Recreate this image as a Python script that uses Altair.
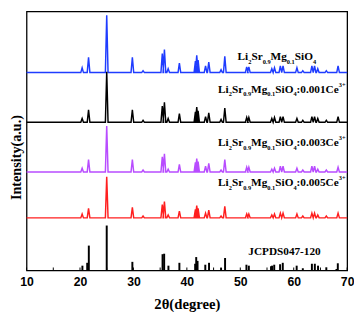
import altair as alt
import pandas as pd

# ---- measured patterns (common peak positions, degrees 2theta) ----
peak_pos = [20.4, 21.6, 25.0, 29.8, 31.8, 35.4, 35.8, 36.5, 38.6, 41.6, 41.85, 42.1,
            43.5, 44.1, 46.4, 47.1, 51.2, 51.6, 55.9, 56.4, 57.5, 58.0, 60.6, 61.7,
            63.4, 63.9, 64.5, 66.1, 68.3]
# peak heights above each baseline (arbitrary units)
h_pure = [5, 16, 60, 16, 2, 20, 24, 4, 10, 12, 18, 13, 7, 11, 3, 17, 6, 6, 4, 5, 7, 7, 5, 2, 7, 7, 4, 2, 7]
h_001 = [4, 13, 53, 13, 2, 17, 21, 4, 9, 11, 16, 12, 6, 10, 3, 15, 5, 5, 4, 5, 6, 6, 4, 2, 6, 6, 4, 2, 6]
h_003 = [4, 13, 48, 13, 2, 16, 19, 3, 8, 10, 14, 11, 6, 9, 2, 13, 5, 5, 3, 4, 6, 6, 4, 2, 6, 6, 3, 2, 5]
h_005 = [4, 10, 43, 11, 2, 14, 17, 3, 7, 9, 13, 10, 5, 8, 2, 12, 4, 4, 3, 4, 5, 5, 4, 2, 5, 5, 3, 2, 5]

series_names = ["pure", "0.001Ce", "0.003Ce", "0.005Ce"]
series_heights = [h_pure, h_001, h_003, h_005]
series_base = [207, 155, 103, 55]
series_colors = ["#1f3cff", "#000000", "#b84cff", "#ff1f1f"]

# ---- JCPDS 047-120 reference sticks ----
ref_pos = [20.45, 21.35, 21.65, 25.0, 29.8, 35.45, 35.75, 36.55, 38.6, 41.55, 41.75, 42.0,
           43.45, 44.15, 46.4, 47.15, 51.15, 51.6, 55.75, 55.95, 56.35, 57.45, 57.95, 60.55,
           61.7, 63.4, 63.95, 64.55, 66.1, 68.0, 68.25]
ref_h = [5, 8, 26, 47, 9, 17, 17.5, 5, 8, 7, 14, 10, 6, 8, 3, 13, 6, 5, 4.5, 5, 6, 6.5, 8, 5,
         2.3, 7, 7, 5, 3.3, 1.5, 7.5]

tick_values = [10, 15, 20, 25, 30, 35, 40, 45, 50, 55, 60, 65, 70]

# ---- labels ----
label_runs = [
    [("Li", "n"), ("2", "sub"), ("Sr", "n"), ("0.9", "sub"), ("Mg", "n"), ("0.1", "sub"), ("SiO", "n"), ("4", "sub")],
    [("Li", "n"), ("2", "sub"), ("Sr", "n"), ("0.9", "sub"), ("Mg", "n"), ("0.1", "sub"), ("SiO", "n"), ("4", "sub"), (":0.001Ce", "n"), ("3+", "sup")],
    [("Li", "n"), ("2", "sub"), ("Sr", "n"), ("0.9", "sub"), ("Mg", "n"), ("0.1", "sub"), ("SiO", "n"), ("4", "sub"), (":0.003Ce", "n"), ("3+", "sup")],
    [("Li", "n"), ("2", "sub"), ("Sr", "n"), ("0.9", "sub"), ("Mg", "n"), ("0.1", "sub"), ("SiO", "n"), ("4", "sub"), (":0.005Ce", "n"), ("3+", "sup")],
    [("JCPDS047-120", "n")],
]
label_x = [49.5, 45.85, 45.85, 45.85, 51.5]
label_y = [220, 186, 130, 88, 16.5]

# ---- layout ----
PW, PH = 328, 265
X_DOM = [10, 70]
Y_DOM = [0, 271]
DEG_PER_PX = (X_DOM[1] - X_DOM[0]) / PW
U_PER_PX = (Y_DOM[1] - Y_DOM[0]) / PH
MAIN, SUB = 11.5, 6.5
HALF_W = 0.25

# Times-Bold advance widths (per 1000 em)
W = {'L': 667, 'i': 278, 'S': 556, 'r': 444, 'M': 944, 'g': 500, 'O': 778, ':': 333, '.': 250,
     'C': 722, 'e': 444, '+': 570, 'J': 500, 'P': 611, 'D': 722, '-': 333}
for d in "0123456789":
    W[d] = 500


def tw(s, size):
    return sum(W[c] for c in s) * size / 1000.0


# build line table
rows = []
for name, hs, base in zip(series_names, series_heights, series_base):
    k = 0
    rows.append({"series": name, "x": X_DOM[0], "y": base, "o": k}); k += 1
    for p, h in zip(peak_pos, hs):
        rows.append({"series": name, "x": p - HALF_W, "y": base, "o": k}); k += 1
        rows.append({"series": name, "x": p, "y": base + h, "o": k}); k += 1
        rows.append({"series": name, "x": p + HALF_W, "y": base, "o": k}); k += 1
    rows.append({"series": name, "x": X_DOM[1], "y": base, "o": k})
lines_df = pd.DataFrame(rows)

ref_df = pd.DataFrame({"x": ref_pos, "y0": [0] * len(ref_pos), "y1": ref_h})
tick_df = pd.DataFrame({"x": tick_values})

trows = []
for runs, ax, ay in zip(label_runs, label_x, label_y):
    off = 0.0
    for txt, kind in runs:
        size = MAIN if kind == "n" else SUB
        dy = 0 if kind == "n" else (3.5 if kind == "sub" else -6)
        trows.append({"t": txt, "x": ax + off * DEG_PER_PX, "y": ay - dy * U_PER_PX, "s": size})
        off += tw(txt, size)
text_df = pd.DataFrame(trows)

xs = alt.Scale(domain=X_DOM, nice=False, zero=False)
ys = alt.Scale(domain=Y_DOM, nice=False, zero=False)

x_axis = alt.Axis(values=[10, 20, 30, 40, 50, 60, 70], format="d", labelFont="Liberation Sans",
                  labelFontWeight="bold", labelFontSize=12.5, labelColor="black", labelFlush=False,
                  labelOverlap=False, ticks=False, domain=False, grid=False, labelPadding=5,
                  title="2θ(degree)", titleFont="Liberation Serif", titleFontSize=15,
                  titleFontWeight="bold", titleColor="black", titlePadding=9)
y_axis = alt.Axis(labels=False, ticks=False, domain=False, grid=False, title="Intensity(a.u.)",
                  titleFont="Liberation Serif", titleFontSize=14.5, titleFontWeight="bold",
                  titleColor="black", titlePadding=3, titleY=149)

bars = alt.Chart(ref_df).mark_rule(color="black", strokeWidth=2).encode(
    x=alt.X("x:Q", scale=xs, axis=x_axis),
    y=alt.Y("y0:Q", scale=ys, axis=y_axis),
    y2="y1:Q",
)

lines = alt.Chart(lines_df).mark_line(strokeWidth=1.5, strokeJoin="miter").encode(
    x=alt.X("x:Q", scale=xs),
    y=alt.Y("y:Q", scale=ys),
    color=alt.Color("series:N", scale=alt.Scale(domain=series_names, range=series_colors), legend=None),
    order="o:Q",
)

ticks = alt.Chart(tick_df).mark_rule(color="black", strokeWidth=1).encode(
    x=alt.X("x:Q", scale=xs),
    y=alt.value(PH),
    y2=alt.value(PH - 3),
)

labels = alt.Chart(text_df).mark_text(align="left", baseline="alphabetic", font="Liberation Serif",
                                      fontWeight="bold", color="black").encode(
    x=alt.X("x:Q", scale=xs),
    y=alt.Y("y:Q", scale=ys),
    text="t:N",
    size=alt.Size("s:Q", scale=None, legend=None),
)

chart = alt.layer(bars, lines, ticks, labels).properties(
    width=PW, height=PH,
    autosize=alt.AutoSizeParams(type="none"),
    padding={"left": 19, "top": 0, "right": 7, "bottom": 39},
    background="white",
).configure_view(stroke="black", strokeWidth=1.3)

chart.save("out.html", embed_options={"renderer": "svg", "actions": False})
